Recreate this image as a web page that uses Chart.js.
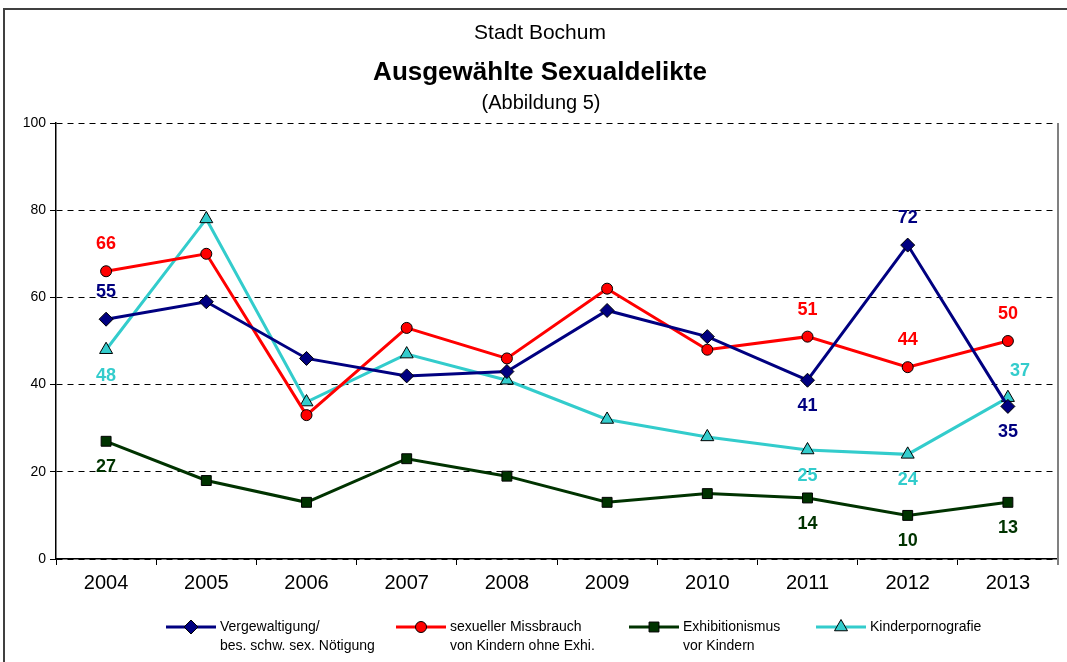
<!DOCTYPE html>
<html>
<head>
<meta charset="utf-8">
<script src="https://cdn.jsdelivr.net/npm/chart.js@4"></script>
<style>
  html, body { margin: 0; padding: 0; background: #fff; }
  #wrap { width: 1067px; height: 662px; position: relative; }
</style>
</head>
<body>
<div id="wrap"><canvas id="chart" width="1067" height="662"></canvas></div>
<script>
// Data
const years = ['2004', '2005', '2006', '2007', '2008', '2009', '2010', '2011', '2012', '2013'];
const yTicks = [0, 20, 40, 60, 80, 100];

const vergewaltigung = [55, 59, 46, 42, 43, 57, 51, 41, 72, 35];
const missbrauch = [66, 70, 33, 53, 46, 62, 48, 51, 44, 50];
const exhibitionismus = [27, 18, 13, 23, 19, 13, 15, 14, 10, 13];
const kinderporno = [48, 78, 36, 47, 41, 32, 28, 25, 24, 37];

// where the value labels sit (null = no label)
const vergLabels = ['above', null, null, null, null, null, null, 'below', 'above', 'below'];
const missLabels = ['above', null, null, null, null, null, null, 'above', 'above', 'above'];
const exhiLabels = ['below', null, null, null, null, null, null, 'below', 'below', 'below'];
const kinderLabels = ['below', null, null, null, null, null, null, 'below', 'below', 'above'];

const legendNames = [
    ['Vergewaltigung/', 'bes. schw. sex. Nötigung'],
    ['sexueller Missbrauch', 'von Kindern ohne Exhi.'],
    ['Exhibitionismus', 'vor Kindern'],
    ['Kinderpornografie']
];

const NAVY = '#000080';
const RED = '#ff0000';
const GREEN = '#003300';
const CYAN = '#33cccc';
const FONT = '"Liberation Sans", Arial, sans-serif';

function series(data, color, style, radius, labels, legend) {
    return {
        data: data,
        borderColor: color,
        backgroundColor: color,
        borderWidth: 3,
        pointStyle: style,
        pointRadius: radius,
        pointHoverRadius: radius,
        pointBackgroundColor: color,
        pointBorderColor: '#000',
        pointBorderWidth: 1,
        tension: 0,
        valueLabels: labels,
        legendText: legend
    };
}

// Titles, frame, right border
const framePlugin = {
    id: 'frame',
    beforeDraw(chart) {
        const ctx = chart.ctx;
        ctx.save();
        ctx.fillStyle = '#fff';
        ctx.fillRect(0, 0, chart.width, chart.height);
        ctx.strokeStyle = '#404040';
        ctx.lineWidth = 2;
        ctx.strokeRect(4, 9, chart.width + 10, chart.height + 10);
        ctx.fillStyle = '#000';
        ctx.textAlign = 'center';
        ctx.textBaseline = 'middle';
        ctx.font = '21px ' + FONT;
        ctx.fillText('Stadt Bochum', 540, 33);
        ctx.font = 'bold 26px ' + FONT;
        ctx.fillText('Ausgewählte Sexualdelikte', 540, 73);
        ctx.font = '20px ' + FONT;
        ctx.fillText('(Abbildung 5)', 541, 103);
        ctx.restore();
    },
    afterDraw(chart) {
        const ctx = chart.ctx;
        const a = chart.chartArea;
        ctx.save();
        ctx.strokeStyle = '#808080';
        ctx.lineWidth = 2;
        ctx.beginPath();
        ctx.moveTo(a.right, a.top);
        ctx.lineTo(a.right, a.bottom + 6);
        ctx.stroke();
        ctx.restore();
    }
};

// Value labels next to the points
const valueLabelPlugin = {
    id: 'valueLabels',
    afterDatasetsDraw(chart) {
        const ctx = chart.ctx;
        ctx.save();
        ctx.font = 'bold 18px ' + FONT;
        ctx.textAlign = 'center';
        ctx.textBaseline = 'middle';
        chart.data.datasets.forEach((ds, i) => {
            const meta = chart.getDatasetMeta(i);
            ds.valueLabels.forEach((pos, j) => {
                if (!pos) return;
                const pt = meta.data[j];
                const dy = pos === 'above' ? -27 : 26;
                const dx = (i === 3 && j === 9) ? 12 : 0;
                ctx.fillStyle = ds.borderColor;
                ctx.fillText(String(ds.data[j]), pt.x + dx, pt.y + dy);
            });
        });
        ctx.restore();
    }
};

// Legend at the bottom
const legendPlugin = {
    id: 'customLegend',
    afterDraw(chart) {
        const ctx = chart.ctx;
        const textX = [220, 450, 683, 870];
        const y = 627;
        ctx.save();
        chart.data.datasets.forEach((ds, i) => {
            const x = textX[i];
            ctx.strokeStyle = ds.borderColor;
            ctx.lineWidth = 3;
            ctx.beginPath();
            ctx.moveTo(x - 54, y);
            ctx.lineTo(x - 4, y);
            ctx.stroke();
            ctx.fillStyle = ds.borderColor;
            ctx.strokeStyle = '#000';
            ctx.lineWidth = 1;
            Chart.helpers.drawPoint(ctx, {
                pointStyle: ds.pointStyle,
                radius: ds.pointRadius,
                rotation: 0,
                borderWidth: 1
            }, x - 29, y);
            ctx.fillStyle = '#000';
            ctx.font = '14px ' + FONT;
            ctx.textAlign = 'left';
            ctx.textBaseline = 'middle';
            ds.legendText.forEach((line, k) => {
                ctx.fillText(line, x, y + k * 19);
            });
        });
        ctx.restore();
    }
};

const ctx = document.getElementById('chart').getContext('2d');
new Chart(ctx, {
    type: 'line',
    data: {
        labels: years,
        datasets: [
            series(vergewaltigung, NAVY, 'rectRot', 7, vergLabels, legendNames[0]),
            series(missbrauch, RED, 'circle', 5.5, missLabels, legendNames[1]),
            series(exhibitionismus, GREEN, 'rect', 7, exhiLabels, legendNames[2]),
            series(kinderporno, CYAN, 'triangle', 7.5, kinderLabels, legendNames[3])
        ]
    },
    options: {
        responsive: false,
        animation: false,
        events: [],
        layout: { padding: { left: 0, top: 123, right: 9, bottom: 0 } },
        plugins: {
            legend: { display: false },
            title: { display: false },
            tooltip: { enabled: false }
        },
        scales: {
            x: {
                offset: true,
                grid: {
                    offset: true,
                    drawOnChartArea: false,
                    drawTicks: true,
                    tickLength: 6,
                    color: '#000'
                },
                border: { color: '#000', width: 1.5 },
                ticks: {
                    color: '#000',
                    font: { family: FONT, size: 20 },
                    padding: 6
                },
                afterFit(scale) { scale.height = 662 - 559; }
            },
            y: {
                min: 0,
                max: 100,
                afterBuildTicks(scale) {
                    scale.ticks = yTicks.map(v => ({ value: v }));
                },
                grid: {
                    color: '#000',
                    lineWidth: 1,
                    drawTicks: true,
                    tickLength: 6,
                    tickColor: '#000',
                    tickBorderDash: []
                },
                border: { color: '#000', width: 1.5, dash: [6, 5] },
                ticks: {
                    color: '#000',
                    font: { family: FONT, size: 14 },
                    padding: 4
                },
                afterFit(scale) { scale.width = 56; }
            }
        }
    },
    plugins: [framePlugin, valueLabelPlugin, legendPlugin]
});
</script>
</body>
</html>
